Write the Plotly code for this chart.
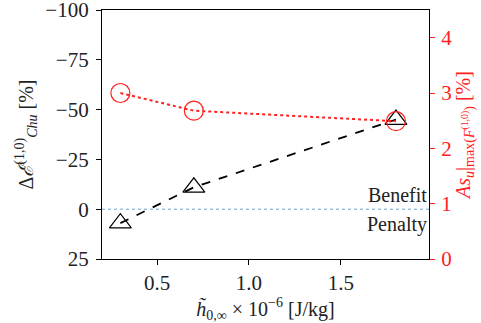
import plotly.graph_objects as go

h0 = [0.3, 0.7, 1.8]
delta_E = [7, -11, -45]
As_u = [3.0, 2.68, 2.49]
left_ticks = [-100, -75, -50, -25, 0, 25]
right_ticks = [0, 1, 2, 3, 4]
x_ticks = [0.5, 1.0, 1.5]

FONT = "Liberation Serif"
RED = "#ff2020"

fig = go.Figure()
fig.add_trace(go.Scatter(
    x=h0, y=delta_E, mode="lines", yaxis="y",
    line=dict(color="black", width=1.8, dash="dash"),
    showlegend=False))
fig.add_trace(go.Scatter(
    x=h0, y=delta_E, mode="markers", yaxis="y",
    marker=dict(symbol="triangle-up-open", size=19, color="black", angle=0,
                line=dict(width=1.2)),
    showlegend=False))
fig.add_trace(go.Scatter(
    x=h0, y=As_u, mode="lines+markers", yaxis="y2",
    line=dict(color=RED, width=2, dash="dot"),
    marker=dict(symbol="circle-open", size=19, color=RED, line=dict(width=1.2)),
    showlegend=False))

fig.add_hline(y=0, line=dict(color="#6fa0d0", width=1, dash="dot"), layer="below")

fig.add_annotation(x=1, xref="paper", y=0, yref="y", text="Benefit", showarrow=False,
                   xanchor="right", yanchor="bottom", yshift=1,
                   font=dict(family=FONT, size=20, color="#222"))
fig.add_annotation(x=1, xref="paper", y=0, yref="y", text="Penalty", showarrow=False,
                   xanchor="right", yanchor="top", yshift=-2,
                   font=dict(family=FONT, size=20, color="#222"))

fig.update_layout(
    width=481, height=323,
    margin=dict(l=102, r=52, t=10, b=64, autoexpand=False),
    plot_bgcolor="white", paper_bgcolor="white",
    font=dict(family=FONT, size=21, color="#222"),
    xaxis=dict(range=[0.2, 1.98], tickvals=x_ticks, ticktext=["0.5", "1.0", "1.5"],
               automargin=False,
               showline=True, linecolor="black", linewidth=1.2, mirror=True,
               ticks="outside", ticklen=5, tickcolor="black", showgrid=False, zeroline=False,
               title=dict(text="<i>h̃</i><sub>0,∞</sub> × 10<sup>−6</sup> [J/kg]",
                          font=dict(size=20), standoff=2)),
    yaxis=dict(range=[25, -100], tickvals=left_ticks, ticklabeloverflow="allow",
               ticklabelstandoff=3, automargin=False,
               showline=True, linecolor="black", linewidth=1.2, mirror=True,
               ticks="outside", ticklen=5, tickcolor="black", showgrid=False, zeroline=False,
               title=dict(text="Δ<span style=\"font-family:'DejaVu Serif'\"><i>ℰ</i></span><sup>(1,0)</sup><sub><i>Chu</i></sub> [%]",
                          font=dict(size=20), standoff=6)),
    yaxis2=dict(range=[0, 4.5], tickvals=right_ticks, overlaying="y", side="right",
                showline=False, ticks="outside", ticklen=5, tickcolor=RED,
                ticklabelstandoff=2, automargin=False,
                tickfont=dict(color=RED), showgrid=False, zeroline=False,
                title=dict(text="<i>As<sub>u</sub></i>|<sub>max(<i>F</i><sup>(1,0)</sup>)</sub> [%]",
                           font=dict(size=20, color=RED), standoff=4)),
)

fig.write_html("out.html")
